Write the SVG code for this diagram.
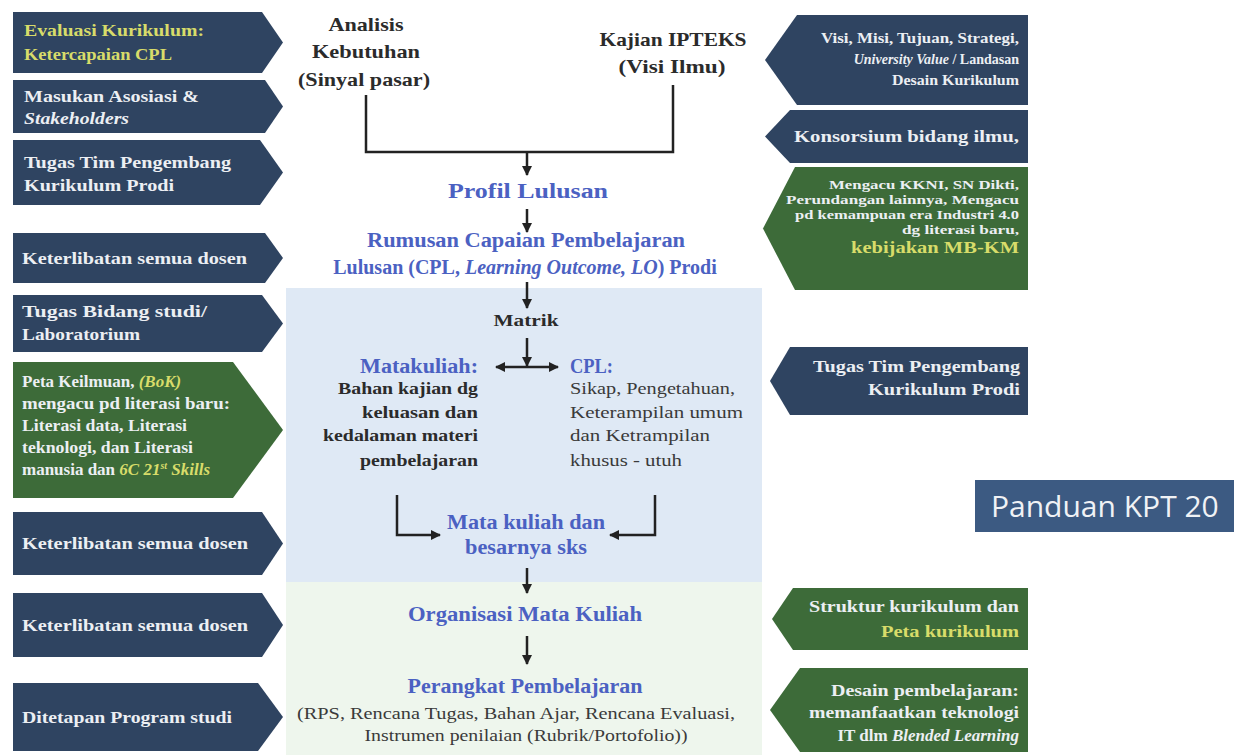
<svg xmlns="http://www.w3.org/2000/svg" width="1234" height="755" viewBox="0 0 1234 755">
<defs>
<marker id="ah" viewBox="0 0 10 10" refX="9" refY="5" markerWidth="4" markerHeight="4" orient="auto-start-reverse" markerUnits="strokeWidth"><path d="M0,0 L10,5 L0,10 z" fill="#222"/></marker>
<style>
.blue{fill:#2f4461}
.green{fill:#3d6b39}
text{font-family:"Liberation Serif","DejaVu Serif",serif}
.h{font-weight:bold;fill:#4b61c2;font-size:20px}
.d{font-weight:bold;fill:#2b2b2b;font-size:19px}
.b{font-weight:bold;fill:#2b2b2b;font-size:16px}
.n{fill:#3a3a3a;font-size:16px}
.t{font-weight:bold;fill:#eceff3;font-size:17px}
.s{font-weight:bold;fill:#eceff3;font-size:14px}
.r3{font-weight:bold;fill:#eceff3;font-size:13px}
.y{fill:#d8dc6a}
.i{font-style:italic}
.c{stroke:#222;stroke-width:2.5;fill:none}
.pk{font-family:"Open Sans","Noto Sans",sans-serif;font-size:30px;fill:#f0f2f5}
</style>
</defs>
<rect x="0" y="0" width="1234" height="755" fill="#ffffff"/>
<rect id="panel-blue" x="286" y="288" width="476" height="294" fill="#dfe9f5"/>
<rect id="panel-green" x="286" y="582" width="476" height="173" fill="#eef6ed"/>

<g id="left-tags">
<g id="L1"><polygon class="blue" points="13,12 262,12 283,42.5 262,73 13,73"/>
<text class="t y" x="24" y="36" textLength="180" lengthAdjust="spacingAndGlyphs">Evaluasi Kurikulum:</text>
<text class="t y" x="24" y="60" textLength="148" lengthAdjust="spacingAndGlyphs">Ketercapaian CPL</text></g>
<g id="L2"><polygon class="blue" points="13,80 265,80 283,106.5 265,133 13,133"/>
<text class="t" x="24" y="102" textLength="175" lengthAdjust="spacingAndGlyphs">Masukan Asosiasi &amp;</text>
<text class="t i" x="24" y="124" textLength="105" lengthAdjust="spacingAndGlyphs" fill="#dfe6f0">Stakeholders</text></g>
<g id="L3"><polygon class="blue" points="13,140 260,140 283,172.5 260,205 13,205"/>
<text class="t" x="24" y="168" textLength="207" lengthAdjust="spacingAndGlyphs">Tugas Tim Pengembang</text>
<text class="t" x="24" y="191" textLength="150" lengthAdjust="spacingAndGlyphs">Kurikulum Prodi</text></g>
<g id="L4"><polygon class="blue" points="13,233 265,233 283,258 265,283 13,283"/>
<text class="t" x="22" y="264" textLength="225" lengthAdjust="spacingAndGlyphs">Keterlibatan semua dosen</text></g>
<g id="L5"><polygon class="blue" points="13,295 262,295 283,323.5 262,352 13,352"/>
<text class="t" x="22" y="317" textLength="185" lengthAdjust="spacingAndGlyphs">Tugas Bidang studi/</text>
<text class="t" x="22" y="340" textLength="118" lengthAdjust="spacingAndGlyphs">Laboratorium</text></g>
<g id="L6"><polygon class="green" points="13,362 233,362 283,430 233,498 13,498"/>
<text class="t" x="22" y="387">Peta Keilmuan, <tspan class="y i">(BoK)</tspan></text>
<text class="t" x="22" y="409" textLength="208" lengthAdjust="spacingAndGlyphs">mengacu pd literasi baru:</text>
<text class="t" x="22" y="431" textLength="165" lengthAdjust="spacingAndGlyphs">Literasi data, Literasi</text>
<text class="t" x="22" y="453" textLength="171" lengthAdjust="spacingAndGlyphs">teknologi, dan Literasi</text>
<text class="t" x="22" y="475">manusia dan <tspan class="y i">6C 21<tspan font-size="10" dy="-6">st</tspan><tspan dy="6"> Skills</tspan></tspan></text></g>
<g id="L7"><polygon class="blue" points="13,512 262,512 283,543.5 262,575 13,575"/>
<text class="t" x="22" y="549" textLength="226" lengthAdjust="spacingAndGlyphs">Keterlibatan semua dosen</text></g>
<g id="L8"><polygon class="blue" points="13,593 262,593 283,625 262,657 13,657"/>
<text class="t" x="22" y="631" textLength="226" lengthAdjust="spacingAndGlyphs">Keterlibatan semua dosen</text></g>
<g id="L9"><polygon class="blue" points="13,683 258,683 283,717 258,751 13,751"/>
<text class="t" x="22" y="723" textLength="210" lengthAdjust="spacingAndGlyphs">Ditetapan Program studi</text></g>
</g>

<g id="right-tags">
<g id="R1"><polygon class="blue" points="1028,15 797,15 765,60 797,105 1028,105"/>
<text class="s" x="1019" y="43" text-anchor="end" textLength="198" lengthAdjust="spacingAndGlyphs">Visi, Misi, Tujuan, Strategi,</text>
<text class="s" x="1019" y="64" text-anchor="end"><tspan class="i">University Value</tspan> / Landasan</text>
<text class="s" x="1019" y="85" text-anchor="end" textLength="127" lengthAdjust="spacingAndGlyphs">Desain Kurikulum</text></g>
<g id="R2"><polygon class="blue" points="1028,110 790,110 765,136.5 790,163 1028,163"/>
<text class="t" x="1019" y="142" text-anchor="end" textLength="225" lengthAdjust="spacingAndGlyphs">Konsorsium bidang ilmu,</text></g>
<g id="R3"><polygon class="green" points="1028,167 795,167 763,228.5 795,290 1028,290"/>
<text class="r3" x="1019" y="189" text-anchor="end" textLength="190" lengthAdjust="spacingAndGlyphs">Mengacu KKNI, SN Dikti,</text>
<text class="r3" x="1019" y="204" text-anchor="end" textLength="233" lengthAdjust="spacingAndGlyphs">Perundangan lainnya, Mengacu</text>
<text class="r3" x="1019" y="219" text-anchor="end" textLength="224" lengthAdjust="spacingAndGlyphs">pd kemampuan era Industri 4.0</text>
<text class="r3" x="1019" y="234" text-anchor="end" textLength="117" lengthAdjust="spacingAndGlyphs">dg literasi baru,</text>
<text class="t y" x="1019" y="253" text-anchor="end" textLength="168" lengthAdjust="spacingAndGlyphs">kebijakan MB-KM</text></g>
<g id="R4"><polygon class="blue" points="1028,347 790,347 770,381 790,415 1028,415"/>
<text class="t" x="1020" y="372" text-anchor="end" textLength="207" lengthAdjust="spacingAndGlyphs">Tugas Tim Pengembang</text>
<text class="t" x="1020" y="395" text-anchor="end" textLength="152" lengthAdjust="spacingAndGlyphs">Kurikulum Prodi</text></g>
<g id="R5"><polygon class="green" points="1028,588 793,588 772,619 793,650 1028,650"/>
<text class="t" x="1019" y="612" text-anchor="end" textLength="210" lengthAdjust="spacingAndGlyphs">Struktur kurikulum dan</text>
<text class="t y" x="1019" y="637" text-anchor="end" textLength="138" lengthAdjust="spacingAndGlyphs">Peta kurikulum</text></g>
<g id="R6"><polygon class="green" points="1028,668 800,668 770,710 800,752 1028,752"/>
<text class="t" x="1019" y="696" text-anchor="end" textLength="188" lengthAdjust="spacingAndGlyphs">Desain pembelajaran:</text>
<text class="t" x="1019" y="718" text-anchor="end" textLength="210" lengthAdjust="spacingAndGlyphs">memanfaatkan teknologi</text>
<text class="t" x="1019" y="741" text-anchor="end">IT dlm <tspan class="i">Blended Learning</tspan></text></g>
</g>

<g id="panduan"><rect x="975" y="480" width="259" height="52" fill="#3c5a82"/>
<text class="pk" x="991" y="517">Panduan KPT 20</text></g>

<g id="connectors">
<polyline class="c" points="366,95 366,152 673,152 673,85"/>
<line class="c" x1="527" y1="152" x2="527" y2="175" marker-end="url(#ah)"/>
<line class="c" x1="527" y1="209" x2="527" y2="232" marker-end="url(#ah)"/>
<line class="c" x1="527" y1="282" x2="527" y2="308" marker-end="url(#ah)"/>
<line class="c" x1="527" y1="338" x2="527" y2="366" marker-end="url(#ah)"/>
<line class="c" x1="496" y1="367" x2="558" y2="367" marker-start="url(#ah)" marker-end="url(#ah)"/>
<polyline class="c" points="397,495 397,535 440,535" marker-end="url(#ah)"/>
<polyline class="c" points="655,495 655,535 610,535" marker-end="url(#ah)"/>
<line class="c" x1="527" y1="568" x2="527" y2="593" marker-end="url(#ah)"/>
<line class="c" x1="527" y1="636" x2="527" y2="664" marker-end="url(#ah)"/>
</g>

<g id="analisis"><text class="d" text-anchor="middle" x="366" y="31" textLength="75" lengthAdjust="spacingAndGlyphs">Analisis</text>
<text class="d" text-anchor="middle" x="366" y="58" textLength="108" lengthAdjust="spacingAndGlyphs">Kebutuhan</text>
<text class="d" text-anchor="middle" x="364" y="86" textLength="132" lengthAdjust="spacingAndGlyphs">(Sinyal pasar)</text></g>
<g id="kajian"><text class="d" text-anchor="middle" x="673" y="46" textLength="147" lengthAdjust="spacingAndGlyphs">Kajian IPTEKS</text>
<text class="d" text-anchor="middle" x="672" y="73" textLength="107" lengthAdjust="spacingAndGlyphs">(Visi Ilmu)</text></g>
<g id="profil"><text class="h" font-size="22" text-anchor="middle" x="528" y="198" textLength="160" lengthAdjust="spacingAndGlyphs">Profil Lulusan</text></g>
<g id="rumusan"><text class="h" font-size="18" text-anchor="middle" x="526" y="247" textLength="318" lengthAdjust="spacingAndGlyphs">Rumusan Capaian Pembelajaran</text>
<text class="h" font-size="18" text-anchor="middle" x="525" y="274">Lulusan (CPL, <tspan class="i">Learning Outcome, LO</tspan>) Prodi</text></g>
<g id="matrik"><text class="b" text-anchor="middle" x="526" y="326" textLength="65" lengthAdjust="spacingAndGlyphs">Matrik</text></g>
<g id="matakuliah"><text class="h" font-size="18" text-anchor="end" x="478" y="373" textLength="118" lengthAdjust="spacingAndGlyphs">Matakuliah:</text>
<text class="b" text-anchor="end" x="478" y="394" textLength="140" lengthAdjust="spacingAndGlyphs">Bahan kajian dg</text>
<text class="b" text-anchor="end" x="478" y="418" textLength="116" lengthAdjust="spacingAndGlyphs">keluasan dan</text>
<text class="b" text-anchor="end" x="478" y="441" textLength="155" lengthAdjust="spacingAndGlyphs">kedalaman materi</text>
<text class="b" text-anchor="end" x="478" y="466" textLength="118" lengthAdjust="spacingAndGlyphs">pembelajaran</text></g>
<g id="cpl"><text class="h" font-size="18" x="570" y="373" textLength="43" lengthAdjust="spacingAndGlyphs">CPL:</text>
<text class="n" x="570" y="394" textLength="165" lengthAdjust="spacingAndGlyphs">Sikap, Pengetahuan,</text>
<text class="n" x="570" y="418" textLength="173" lengthAdjust="spacingAndGlyphs">Keterampilan umum</text>
<text class="n" x="570" y="441" textLength="140" lengthAdjust="spacingAndGlyphs">dan Ketrampilan</text>
<text class="n" x="570" y="466" textLength="112" lengthAdjust="spacingAndGlyphs">khusus - utuh</text></g>
<g id="mata-kuliah-sks"><text class="h" font-size="18" text-anchor="middle" x="526" y="529" textLength="158" lengthAdjust="spacingAndGlyphs">Mata kuliah dan</text>
<text class="h" font-size="18" text-anchor="middle" x="526" y="554" textLength="122" lengthAdjust="spacingAndGlyphs">besarnya sks</text></g>
<g id="organisasi"><text class="h" text-anchor="middle" x="525" y="621" textLength="234" lengthAdjust="spacingAndGlyphs">Organisasi Mata Kuliah</text></g>
<g id="perangkat"><text class="h" text-anchor="middle" x="525" y="693" textLength="235" lengthAdjust="spacingAndGlyphs">Perangkat Pembelajaran</text>
<text class="n" text-anchor="middle" x="516" y="719" textLength="438" lengthAdjust="spacingAndGlyphs">(RPS, Rencana Tugas, Bahan Ajar, Rencana Evaluasi,</text>
<text class="n" text-anchor="middle" x="526" y="741" textLength="323" lengthAdjust="spacingAndGlyphs">Instrumen penilaian (Rubrik/Portofolio))</text></g>
</svg>
